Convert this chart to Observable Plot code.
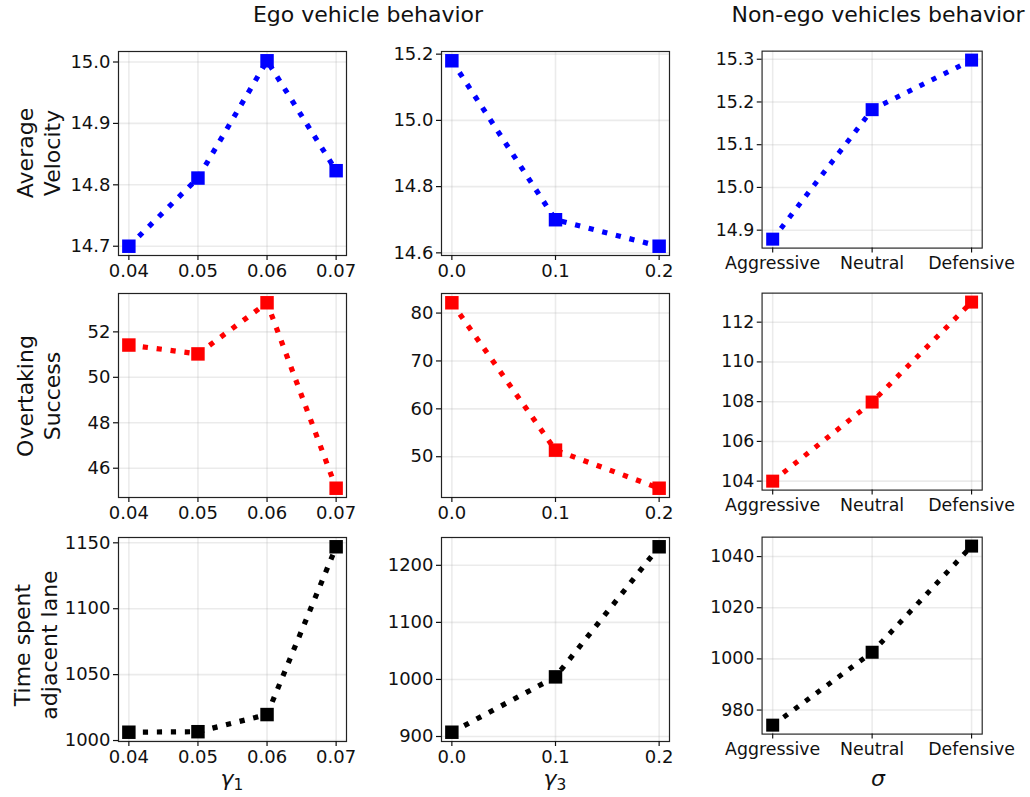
<!DOCTYPE html>
<html><head><meta charset="utf-8">
<script src="https://cdn.jsdelivr.net/npm/d3@7"></script>
<script src="https://cdn.jsdelivr.net/npm/@observablehq/plot@0.6"></script>
<style>
body{margin:0;background:#fff;}
#wrap{position:relative;width:1030px;height:797px;overflow:hidden;font-family:"DejaVu Sans";color:#000;background:#fff;}
.t{position:absolute;font-size:22px;line-height:1;white-space:nowrap;color:#111;}
.yl{position:absolute;font-size:22px;line-height:1.23;white-space:nowrap;text-align:center;color:#111;transform:translate(-50%,-50%) rotate(-90deg);}
.xl{position:absolute;font-size:22px;line-height:1;white-space:nowrap;color:#111;transform:translateX(-50%);}
.xl sub{font-size:70%;vertical-align:-0.25em;font-style:normal;}
.plotbox{position:absolute;}
.plotbox svg text{font-size:18px;}
</style></head><body><div id="wrap"></div>
<script>
// ---- data ----
const gamma1 = [0.04, 0.05, 0.06, 0.07];
const gamma3 = [0.0, 0.1, 0.2];
const sigmaCats = ["Aggressive", "Neutral", "Defensive"];

const velGamma1 = [14.700, 14.811, 15.002, 14.823];
const velGamma3 = [15.18, 14.70, 14.62];
const velSigma  = [14.879, 15.182, 15.298];

const overGamma1 = [51.42, 51.03, 53.28, 45.12];
const overGamma3 = [82.15, 51.37, 43.42];
const overSigma  = [104.0, 107.98, 113.01];

const timeGamma1 = [1006.3, 1006.7, 1019.7, 1147.0];
const timeGamma3 = [907.5, 1004.5, 1232.5];
const timeSigma  = [974.1, 1002.6, 1044.1];

// tick labels
const gamma1Ticks = [0.04, 0.05, 0.06, 0.07];
const gamma3Ticks = [0.0, 0.1, 0.2];
const velGamma1Ticks = [14.7, 14.8, 14.9, 15.0];
const velGamma3Ticks = [14.6, 14.8, 15.0, 15.2];
const velSigmaTicks  = [14.9, 15.0, 15.1, 15.2, 15.3];
const overGamma1Ticks = [46, 48, 50, 52];
const overGamma3Ticks = [50, 60, 70, 80];
const overSigmaTicks  = [104, 106, 108, 110, 112];
const timeGamma1Ticks = [1000, 1050, 1100, 1150];
const timeGamma3Ticks = [900, 1000, 1100, 1200];
const timeSigmaTicks  = [980, 1000, 1020, 1040];

const colTitles = ["Ego vehicle behavior", "Non-ego vehicles behavior"];
const rowLabels = [["Average", "Velocity"], ["Overtaking", "Success"], ["Time spent", "adjacent lane"]];

// ---- layout ----
const wrap = document.getElementById("wrap");
const W = 228, H = 204;
const lefts = [118, 441, 764];
const tops = [51, 293, 537];
const ML = 70, MR = 50, MT = 10, MB = 40;

function pad(vals) {
  const lo = d3.min(vals), hi = d3.max(vals), r = hi - lo;
  return [lo - 0.05 * r, hi + 0.05 * r];
}

function panel(col, row, xs, ys, xTicks, xFmt, yTicks, yFmt, color) {
  const cat = typeof xs[0] === "string";
  const rows = xs.map((x, i) => ({x, y: ys[i]}));
  const gridStyle = {stroke: "#b0b0b0", strokeOpacity: 0.26, strokeWidth: 1.6};
  const p = Plot.plot({
    width: W + ML + MR, height: H + MT + MB,
    marginLeft: ML, marginRight: MR, marginTop: MT, marginBottom: MB,
    style: {fontFamily: "DejaVu Sans", fontSize: "18px", background: "transparent", overflow: "visible", color: "#111"},
    x: cat ? {type: "point", domain: xs, padding: 0.1} : {domain: pad(xs)},
    y: {domain: pad(ys)},
    marks: [
      Plot.gridX({ticks: xTicks, ...gridStyle}),
      Plot.gridY({ticks: yTicks, ...gridStyle}),
      Plot.line(rows, {x: "x", y: "y", stroke: color, strokeWidth: 5.2, strokeDasharray: "5.2 8.8", strokeLinecap: "butt"}),
      Plot.dot(rows, {x: "x", y: "y", symbol: "square", r: 7.6, fill: color}),
      Plot.frame({stroke: "#222", strokeWidth: 1.2}),
      Plot.axisX({ticks: xTicks, tickFormat: xFmt, tickSize: 5, tickPadding: 4, fontSize: 18, label: null, stroke: "#111", strokeWidth: 1.2}),
      Plot.axisY({ticks: yTicks, tickFormat: yFmt, tickSize: 5, tickPadding: 3, fontSize: 18, label: null, stroke: "#111", strokeWidth: 1.2})
    ]
  });
  const box = document.createElement("div");
  box.className = "plotbox";
  box.style.left = (lefts[col] - ML) + "px";
  box.style.top = (tops[row] - MT) + "px";
  box.appendChild(p);
  wrap.appendChild(box);
}

const f1 = d3.format(".1f"), f2 = d3.format(".2f"), f0 = d3.format("d"), id = d => d;

panel(0, 0, gamma1, velGamma1, gamma1Ticks, f2, velGamma1Ticks, f1, "#0000ff");
panel(1, 0, gamma3, velGamma3, gamma3Ticks, f1, velGamma3Ticks, f1, "#0000ff");
panel(2, 0, sigmaCats, velSigma, sigmaCats, id, velSigmaTicks, f1, "#0000ff");

panel(0, 1, gamma1, overGamma1, gamma1Ticks, f2, overGamma1Ticks, f0, "#ff0000");
panel(1, 1, gamma3, overGamma3, gamma3Ticks, f1, overGamma3Ticks, f0, "#ff0000");
panel(2, 1, sigmaCats, overSigma, sigmaCats, id, overSigmaTicks, f0, "#ff0000");

panel(0, 2, gamma1, timeGamma1, gamma1Ticks, f2, timeGamma1Ticks, f0, "#000000");
panel(1, 2, gamma3, timeGamma3, gamma3Ticks, f1, timeGamma3Ticks, f0, "#000000");
panel(2, 2, sigmaCats, timeSigma, sigmaCats, id, timeSigmaTicks, f0, "#000000");

// ---- texts ----
function addText(cls, html, x, y) {
  const d = document.createElement("div");
  d.className = cls;
  d.innerHTML = html;
  d.style.left = x + "px";
  d.style.top = y + "px";
  wrap.appendChild(d);
  return d;
}
const t1 = addText("t", colTitles[0], 368, 4); t1.style.transform = "translateX(-50%)";
const t2 = addText("t", colTitles[1], 878, 4); t2.style.transform = "translateX(-50%)";

addText("yl", rowLabels[0].join("<br>"), 38.5, 153);
addText("yl", rowLabels[1].join("<br>"), 38.5, 396);
addText("yl", rowLabels[2].join("<br>"), 35.5, 645);

addText("xl", "<i>γ</i><sub>1</sub>", 232, 768);
addText("xl", "<i>γ</i><sub>3</sub>", 555, 768);
addText("xl", "<i>σ</i>", 878, 768);
</script>
</body></html>
